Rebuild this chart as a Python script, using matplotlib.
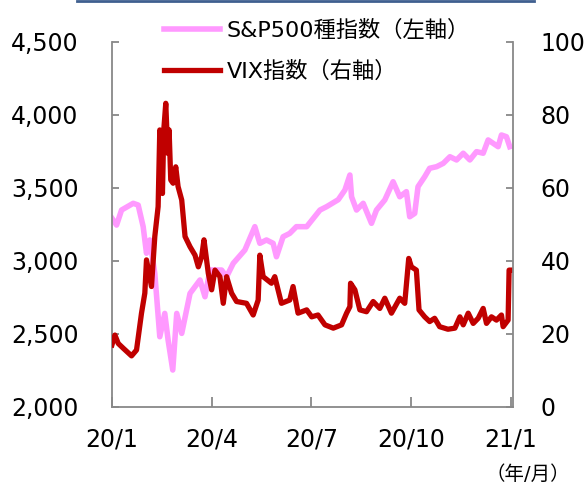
import matplotlib
matplotlib.use("Agg")
import matplotlib.pyplot as plt
from matplotlib.lines import Line2D

plt.rcParams['font.family'] = ['DejaVu Sans', 'Noto Sans CJK JP']

# x position in months from 2020/1 (0) to 2021/1 (12)
sp_x = [0.0, 0.14, 0.29, 0.64, 0.79, 0.94, 1.04, 1.14, 1.29, 1.44, 1.59, 1.69, 1.83, 1.95,
        2.10, 2.35, 2.65, 2.80, 2.95, 3.30, 3.45, 3.65, 4.00, 4.30, 4.45, 4.65, 4.85, 4.95,
        5.15, 5.35, 5.55, 5.86, 6.26, 6.46, 6.81, 7.01, 7.16, 7.21, 7.36, 7.56, 7.81, 7.96,
        8.21, 8.46, 8.66, 8.86, 8.96, 9.11, 9.21, 9.41, 9.56, 9.77, 9.97, 10.17, 10.37,
        10.57, 10.77, 10.97, 11.17, 11.32, 11.47, 11.62, 11.72, 11.87, 11.97]
sp500 = [3293, 3246, 3349, 3395, 3383, 3235, 3053, 3144, 2915, 2481, 2641, 2459, 2253, 2641,
         2504, 2778, 2870, 2755, 2938, 2938, 2892, 2984, 3075, 3235, 3121, 3144, 3121, 3029,
         3166, 3189, 3235, 3235, 3349, 3372, 3420, 3486, 3589, 3440, 3349, 3395, 3258, 3349,
         3418, 3543, 3440, 3475, 3303, 3326, 3509, 3577, 3635, 3646, 3669, 3714, 3692,
         3738, 3692, 3749, 3738, 3829, 3806, 3783, 3863, 3851, 3783]

vix_x = [0.0, 0.09, 0.19, 0.34, 0.59, 0.74, 0.89, 0.99, 1.04, 1.19, 1.29, 1.39, 1.44, 1.52,
         1.56, 1.62, 1.68, 1.72, 1.77, 1.84, 1.92, 1.99, 2.10, 2.20, 2.35, 2.50, 2.60, 2.70,
         2.77, 2.90, 3.00, 3.10, 3.25, 3.35, 3.45, 3.60, 3.75, 4.05, 4.25, 4.40, 4.45, 4.55,
         4.80, 4.90, 5.10, 5.35, 5.45, 5.60, 5.86, 6.01, 6.20, 6.41, 6.66, 6.91, 7.06, 7.16,
         7.18, 7.31, 7.46, 7.66, 7.86, 8.06, 8.21, 8.41, 8.66, 8.81, 8.93, 9.01, 9.16, 9.24,
         9.41, 9.56, 9.71, 9.86, 10.11, 10.32, 10.47, 10.57, 10.72, 10.87, 11.02, 11.17,
         11.27, 11.42, 11.57, 11.72, 11.77, 11.92, 11.95, 12.02]
vix = [17.0, 19.7, 17.4, 16.1, 14.0, 15.6, 25.7, 31.2, 40.3, 33.0, 46.7, 54.9, 75.9, 58.5,
       75.9, 83.2, 69.5, 75.9, 62.2, 61.3, 65.8, 60.4, 56.7, 46.7, 43.9, 41.6, 38.4, 41.2,
       45.8, 36.6, 32.1, 37.5, 35.7, 28.4, 35.7, 31.2, 28.9, 28.4, 25.2, 29.3, 41.6, 35.7,
       33.9, 35.7, 28.4, 29.3, 33.0, 25.7, 26.6, 24.7, 25.2, 22.5, 21.6, 22.5, 25.7, 27.5,
       33.9, 32.1, 26.6, 26.1, 28.9, 27.0, 29.8, 25.7, 29.8, 28.4, 40.7, 38.4, 37.5, 26.6,
       24.7, 23.4, 24.3, 22.0, 21.3, 21.6, 24.7, 22.5, 25.7, 22.9, 24.3, 27.0,
       22.9, 24.7, 23.8, 25.2, 22.0, 23.8, 37.5, 37.5]

x_ticks = [0, 3, 6, 9, 12]
x_labels = ['20/1', '20/4', '20/7', '20/10', '21/1']

fig = plt.figure(figsize=(5.86, 4.86), dpi=100)
ax = fig.add_axes([0.191, 0.1626, 0.684, 0.751])
ax2 = ax.twinx()

l1, = ax.plot(sp_x, sp500, color='#FF99FF', lw=4, solid_joinstyle='round')
l2, = ax2.plot(vix_x, vix, color='#C00000', lw=3.8, solid_joinstyle='round')
ax.set_zorder(ax2.get_zorder() - 1)
ax2.patch.set_visible(False)

ax.set_xlim(0, 12.06)
ax.set_ylim(2000, 4500)
ax2.set_ylim(0, 100)
ax.set_yticks(range(2000, 4501, 500))
ax.set_yticklabels([f'{v:,}' for v in range(2000, 4501, 500)])
ax2.set_yticks(range(0, 101, 20))
ax.set_xticks(x_ticks)
ax.set_xticklabels(x_labels)

grey = '#888888'
for a in (ax, ax2):
    for s in a.spines.values():
        s.set_color(grey)
        s.set_linewidth(1.3)
    a.spines['top'].set_visible(False)
ax.spines['right'].set_visible(False)
ax2.spines['left'].set_visible(False)
ax2.spines['bottom'].set_visible(False)

ax.tick_params(axis='y', direction='in', length=5, color=grey, width=1.3, labelsize=17, pad=24)
ax.tick_params(axis='x', direction='in', length=7, color=grey, width=1.3, labelsize=17, pad=15)
ax2.tick_params(axis='y', direction='in', length=5, color=grey, width=1.3, labelsize=17, pad=20)

fig.text(0.90, 0.023, '（年/月）', fontsize=14, ha='center', va='center')

fig.legend([l1, l2], ['S&P500種指数（左軸）', 'VIX指数（右軸）'],
           loc='upper left', bbox_to_anchor=(0.265, 0.977), frameon=False,
           fontsize=16, handlelength=2.5, handletextpad=0.3, labelspacing=0.87,
           borderaxespad=0)

fig.add_artist(Line2D([0.131, 0.911], [0.997, 0.997], color='#3F5F8F', lw=2))

fig.savefig('out.png', dpi=100)
